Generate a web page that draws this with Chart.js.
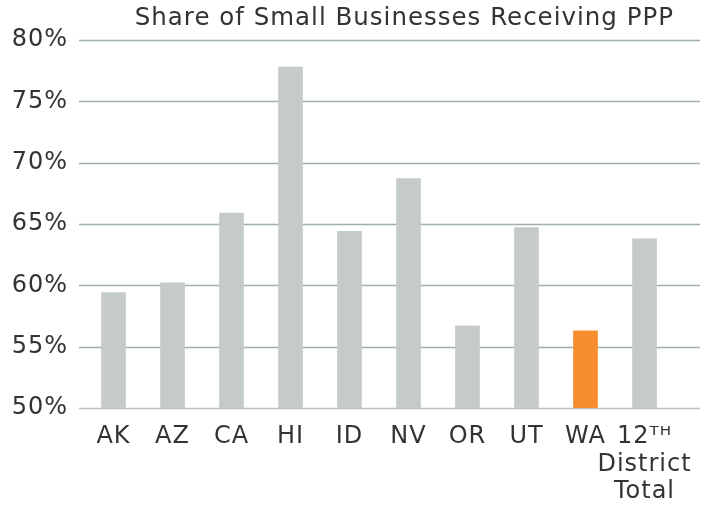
<!DOCTYPE html>
<html>
<head>
<meta charset="utf-8">
<script src="https://cdn.jsdelivr.net/npm/chart.js@4/dist/chart.umd.min.js"></script>
<style>
  html, body { margin: 0; padding: 0; background: #ffffff; }
  #wrap { width: 711px; height: 506px; }
</style>
</head>
<body>
<div id="wrap"><canvas id="c" width="711" height="506"></canvas></div>
<script>
const categories = ["AK", "AZ", "CA", "HI", "ID", "NV", "OR", "UT", "WA", ["12\u1D40\u1D34", "District", "Total"]];
const shareValues = [59.4, 60.2, 65.9, 77.8, 64.4, 68.7, 56.7, 64.7, 56.3, 63.8];
const highlightState = "WA";
const yTicks = [50, 55, 60, 65, 70, 75, 80];
const titleText = "Share of Small Businesses Receiving PPP";

const GRAY = "#c5cbca";
const ORANGE = "#f68d2e";
const TEXT = "#333333";
const FONT = "'DejaVu Sans', sans-serif";

const barColors = categories.map(c => c === highlightState ? ORANGE : GRAY);

const spacingPlugin = {
  id: "letterSpacing",
  beforeLayout(chart) { chart.ctx.letterSpacing = "1px"; },
  beforeDraw(chart) { chart.ctx.letterSpacing = "1px"; }
};

const gridPlugin = {
  id: "extendedGrid",
  beforeDatasetsDraw(chart) {
    const { ctx, chartArea, scales } = chart;
    ctx.save();
    yTicks.forEach(v => {
      const y = Math.round(scales.y.getPixelForValue(v)) + 0.5;
      ctx.beginPath();
      ctx.strokeStyle = v === yTicks[0] ? "#bcc4c3" : "#9fb0ad";
      ctx.lineWidth = 1.4;
      ctx.moveTo(chartArea.left - 5, y);
      ctx.lineTo(chartArea.right + 26, y);
      ctx.stroke();
    });
    ctx.restore();
  }
};

new Chart(document.getElementById("c"), {
  type: "bar",
  data: {
    labels: categories,
    datasets: [{
      data: shareValues,
      backgroundColor: barColors,
      borderWidth: 0,
      barThickness: 24
    }]
  },
  options: {
    responsive: false,
    animation: false,
    layout: { padding: { left: 0, right: 37, top: 0, bottom: 0 } },
    plugins: {
      legend: { display: false },
      tooltip: { enabled: false },
      title: {
        display: true,
        text: titleText,
        align: "end",
        color: TEXT,
        font: { family: FONT, size: 24.5, weight: "normal", lineHeight: 1.2 },
        padding: { top: 4, bottom: 6.6 }
      }
    },
    scales: {
      x: {
        afterFit(scale) { scale.height = 98; },
        grid: { display: false, drawTicks: false },
        border: { display: false },
        ticks: {
          color: TEXT,
          padding: 15,
          maxRotation: 0,
          autoSkip: false,
          font: { family: FONT, size: 24, lineHeight: 1.15 }
        }
      },
      y: {
        min: 50,
        max: 80,
        afterFit(scale) { scale.width = 84; },
        afterBuildTicks(scale) { scale.ticks = yTicks.map(v => ({ value: v })); },
        grid: { display: false, drawTicks: false },
        border: { display: false },
        ticks: {
          color: TEXT,
          padding: 16,
          font: { family: FONT, size: 24 },
          callback: v => v + "%"
        }
      }
    }
  },
  plugins: [spacingPlugin, gridPlugin]
});
</script>
</body>
</html>
